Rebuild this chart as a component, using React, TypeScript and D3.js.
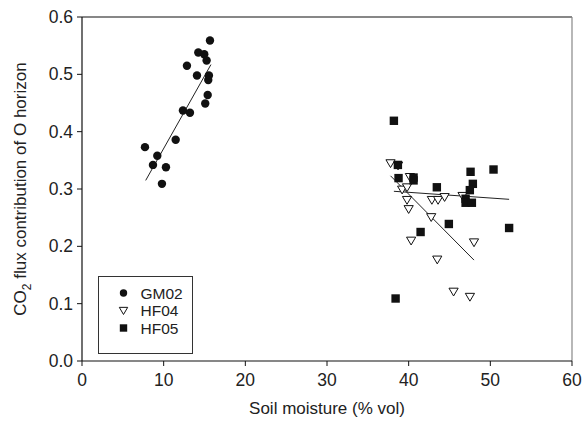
import * as d3 from "d3";
import React from "react";

// soil moisture (% vol) and O horizon CO2 flux contribution
const gm02X = [15.67, 14.24, 14.97, 15.26, 12.85, 15.54, 14.08, 15.46, 15.39, 15.09, 12.36, 13.22, 11.47, 7.71, 9.22, 8.69, 10.28, 9.79];
const gm02Y = [0.559, 0.538, 0.535, 0.524, 0.515, 0.498, 0.498, 0.49, 0.464, 0.449, 0.437, 0.433, 0.386, 0.373, 0.358, 0.342, 0.338, 0.309];

const hf04X = [37.78, 38.7, 40.15, 39.2, 39.8, 39.8, 40.0, 42.84, 43.6, 44.4, 46.6, 42.76, 40.3, 48.0, 43.5, 45.5, 47.5];
const hf04Y = [0.345, 0.341, 0.321, 0.299, 0.303, 0.281, 0.265, 0.281, 0.281, 0.286, 0.288, 0.251, 0.21, 0.207, 0.177, 0.121, 0.112];

const hf05X = [38.19, 38.68, 38.76, 40.6, 40.6, 43.45, 47.58, 50.39, 47.86, 47.49, 46.97, 46.97, 47.74, 44.92, 41.46, 52.3, 38.4];
const hf05Y = [0.419, 0.342, 0.319, 0.32, 0.315, 0.303, 0.33, 0.334, 0.309, 0.298, 0.283, 0.276, 0.276, 0.239, 0.225, 0.232, 0.109];

// regression line end points [x0, y0, x1, y1]
const gm02Fit = [7.8, 0.315, 15.79, 0.517];
const hf04Fit = [37.78, 0.323, 48.0, 0.176];
const hf05Fit = [38.19, 0.296, 52.3, 0.282];

const xTicks = [0, 10, 20, 30, 40, 50, 60];
const yTicks = [0, 0.1, 0.2, 0.3, 0.4, 0.5, 0.6];
const seriesNames = ["GM02", "HF04", "HF05"];

const width = 583;
const height = 421;
const left = 82, right = 572, top = 17, bottom = 361;
const font = "'Liberation Sans', Arial, sans-serif";

const App = () => {
  const x = d3.scaleLinear().domain([0, 60]).range([left, right]);
  const y = d3.scaleLinear().domain([0, 0.6]).range([bottom, top]);

  const tri = (cx: number, cy: number, s: number) =>
    `M${cx - s},${cy - s * 0.75}L${cx + s},${cy - s * 0.75}L${cx},${cy + s * 0.95}Z`;

  const fitLine = (f: number[]) => (
    <line x1={x(f[0])} y1={y(f[1])} x2={x(f[2])} y2={y(f[3])} stroke="#222" strokeWidth={1} />
  );

  return (
    <svg width={width} height={height} style={{ position: "absolute", left: 0, top: 0, background: "#fff" }}
      fontFamily={font}>
      {/* frame */}
      <line x1={left} y1={top} x2={right} y2={top} stroke="#111" strokeWidth={1.2} />
      <line x1={right} y1={top} x2={right} y2={bottom} stroke="#888" strokeWidth={1.2} />
      <line x1={left} y1={top} x2={left} y2={bottom} stroke="#111" strokeWidth={1.2} />
      <line x1={left} y1={bottom} x2={right} y2={bottom} stroke="#111" strokeWidth={1.2} />

      {yTicks.map((t) => (
        <g key={"y" + t}>
          <line x1={left - 5} x2={left} y1={y(t)} y2={y(t)} stroke="#111" />
          <text x={left - 9} y={y(t)} dy="0.35em" textAnchor="end" fontSize={17.5} fill="#222">
            {t.toFixed(1)}
          </text>
        </g>
      ))}
      {xTicks.map((t) => (
        <g key={"x" + t}>
          <line x1={x(t)} x2={x(t)} y1={bottom} y2={bottom + 5} stroke="#111" />
          <text x={x(t)} y={bottom + 25} textAnchor="middle" fontSize={17.5} fill="#222">
            {t}
          </text>
        </g>
      ))}

      <text x={(left + right) / 2} y={414} textAnchor="middle" fontSize={17} fill="#222">
        Soil moisture (% vol)
      </text>
      <text transform={`translate(26,${(top + bottom) / 2}) rotate(-90)`} textAnchor="middle" fontSize={17} fill="#222">
        CO<tspan fontSize={12} dy={5}>2</tspan><tspan dy={-5}> flux contribution of O horizon</tspan>
      </text>

      {fitLine(gm02Fit)}
      {fitLine(hf04Fit)}
      {fitLine(hf05Fit)}

      {hf04X.map((v, i) => (
        <path key={"b" + i} d={tri(x(v), y(hf04Y[i]), 4.6)} fill="#fff" stroke="#111" strokeWidth={1} />
      ))}
      {hf05X.map((v, i) => (
        <rect key={"c" + i} x={x(v) - 4.2} y={y(hf05Y[i]) - 4.2} width={8.4} height={8.4} fill="#111" />
      ))}
      {gm02X.map((v, i) => (
        <circle key={"a" + i} cx={x(v)} cy={y(gm02Y[i])} r={4.2} fill="#111" />
      ))}

      {/* legend */}
      <rect x={98.5} y={276.5} width={94} height={77} fill="#fff" stroke="#333" strokeWidth={1} />
      {seriesNames.map((n, i) => {
        const ly = 293 + i * 17.5;
        return (
          <g key={n}>
            {i === 0 && <circle cx={123.5} cy={ly} r={3.7} fill="#111" />}
            {i === 1 && <path d={tri(123.5, ly, 4.2)} fill="#fff" stroke="#111" strokeWidth={1} />}
            {i === 2 && <rect x={119.8} y={ly - 3.7} width={7.4} height={7.4} fill="#111" />}
            <text x={140.5} y={ly} dy="0.36em" fontSize={15.5} fill="#222">{n}</text>
          </g>
        );
      })}
    </svg>
  );
};

export default App;
